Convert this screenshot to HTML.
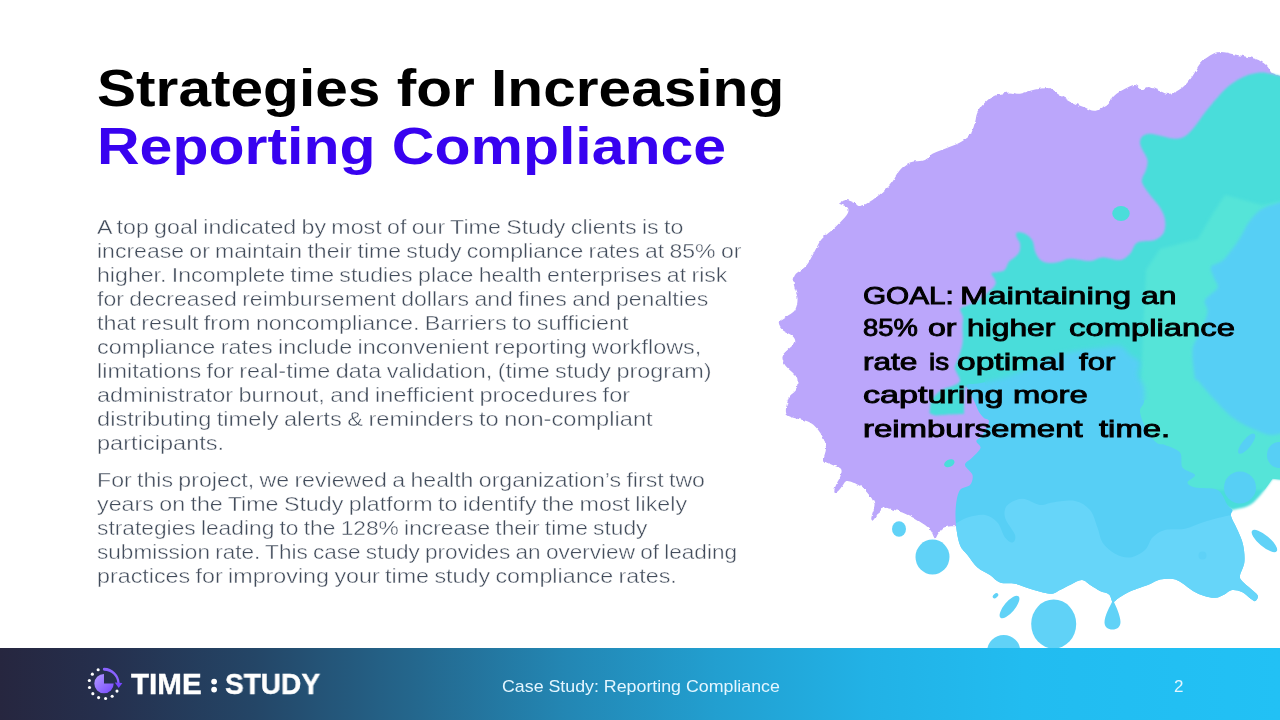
<!DOCTYPE html>
<html><head><meta charset="utf-8"><title>Strategies for Increasing Reporting Compliance</title>
<style>
html,body{margin:0;padding:0;background:#fff;}
body{width:1280px;height:720px;position:relative;overflow:hidden;font-family:"Liberation Sans",sans-serif;}
.abs{position:absolute;}
.t{position:absolute;white-space:nowrap;transform-origin:0 0;will-change:transform;}
.b{-webkit-text-stroke:0.42px #fff;}
.g{-webkit-text-stroke:0.9px #000;}
.w{-webkit-text-stroke:0.4px #fff;}
.footer{position:absolute;left:0;top:648px;width:1280px;height:72px;background:linear-gradient(90deg,#26263f 0%,#252f4d 8%,#244667 20%,#24668c 32%,#2386b3 44%,#229fd0 56%,#22b2e6 68%,#22bcf0 80%,#22c1f5 100%);}
</style></head>
<body>
<svg class="abs" style="left:0;top:0" width="1280" height="720" viewBox="0 0 1280 720">
<filter id="rough" x="-5%" y="-5%" width="110%" height="110%"><feTurbulence type="fractalNoise" baseFrequency="0.22" numOctaves="2" seed="7" result="n"/><feDisplacementMap in="SourceGraphic" in2="n" scale="3.2" xChannelSelector="R" yChannelSelector="G"/></filter>
<path d="M838.8,203.8C840.0,203.1 843.5,200.2 846.0,200.0C848.5,199.8 851.7,201.5 854.0,202.5C856.3,203.5 856.9,206.4 860.0,206.0C863.1,205.6 867.5,203.5 872.5,200.0C877.5,196.5 885.4,190.0 890.0,185.0C894.6,180.0 896.7,173.8 900.0,170.0C903.3,166.2 905.8,164.2 910.0,162.5C914.2,160.8 921.2,161.5 925.0,160.0C928.8,158.5 929.2,155.6 932.5,153.8C935.8,151.9 940.4,150.6 945.0,148.8C949.6,146.9 955.8,144.8 960.0,142.5C964.2,140.2 967.5,138.3 970.0,135.0C972.5,131.7 973.8,126.2 975.0,122.5C976.2,118.8 975.8,115.8 977.5,112.5C979.2,109.2 982.1,105.3 985.0,102.5C987.9,99.7 990.8,97.2 995.0,95.5C999.2,93.8 1005.8,92.8 1010.0,92.5C1014.2,92.2 1015.8,94.2 1020.0,93.8C1024.2,93.2 1030.0,90.4 1035.0,89.5C1040.0,88.6 1046.2,87.5 1050.0,88.2C1053.8,89.0 1054.2,91.6 1057.5,93.8C1060.8,95.9 1065.4,99.0 1070.0,101.2C1074.6,103.5 1080.8,105.9 1085.0,107.5C1089.2,109.1 1091.2,111.2 1095.0,110.8C1098.8,110.3 1104.4,107.4 1107.5,105.0C1110.6,102.6 1110.8,99.0 1113.8,96.2C1116.7,93.5 1121.5,90.6 1125.0,88.8C1128.5,86.9 1132.1,84.8 1135.0,85.0C1137.9,85.2 1140.2,89.7 1142.5,90.0C1144.8,90.3 1145.8,86.8 1148.8,87.0C1151.7,87.2 1156.5,90.1 1160.0,91.2C1163.5,92.4 1166.2,94.4 1170.0,93.8C1173.8,93.1 1178.8,90.4 1182.5,87.5C1186.2,84.6 1189.6,80.2 1192.5,76.2C1195.4,72.3 1197.1,67.2 1200.0,63.8C1202.9,60.3 1206.7,57.5 1210.0,55.5C1213.3,53.5 1215.8,52.2 1220.0,52.0C1224.2,51.8 1229.2,53.4 1235.0,54.5C1240.8,55.6 1249.8,57.0 1255.0,58.8C1260.2,60.5 1263.3,62.7 1266.0,65.0C1268.7,67.3 1270.2,71.2 1271.0,72.5L1285.0,78.0L1285.0,300.0L1100.0,420.0L990.0,520.0L957.5,526.0C955.2,526.2 947.2,526.2 944.0,527.5C940.8,528.8 939.5,532.2 938.0,534.0C936.5,535.8 936.2,539.0 935.0,538.5C933.8,538.0 932.7,533.2 931.0,531.0C929.3,528.8 928.5,527.5 925.0,525.0C921.5,522.5 915.0,518.5 910.0,516.0C905.0,513.5 899.5,511.4 895.0,510.0C890.5,508.6 885.5,507.3 883.0,507.5C880.5,507.7 881.0,509.6 880.0,511.0C879.0,512.4 878.0,514.4 877.0,516.0C876.0,517.6 874.8,520.0 873.8,520.5C872.8,521.0 871.5,520.2 871.3,519.0C871.1,517.8 872.0,515.3 872.5,513.0C873.0,510.7 874.9,507.8 874.5,505.0C874.1,502.2 872.4,499.2 870.0,496.0C867.6,492.8 863.8,488.5 860.0,486.0C856.2,483.5 850.3,481.2 847.5,481.0C844.7,480.8 844.2,483.7 843.0,485.0C841.8,486.3 841.1,487.8 840.0,489.0C838.9,490.2 837.5,492.1 836.5,492.3C835.5,492.6 834.3,491.9 834.3,490.5C834.3,489.1 835.5,486.4 836.5,484.0C837.5,481.6 839.8,478.5 840.5,476.0C841.2,473.5 842.3,470.8 841.0,469.0C839.7,467.2 835.3,466.5 832.5,465.0C829.7,463.5 825.1,462.9 824.0,460.0C822.9,457.1 826.5,451.8 826.0,447.5C825.5,443.2 823.7,438.2 821.0,434.0C818.3,429.8 814.8,425.2 810.0,422.5C805.2,419.8 796.5,419.2 792.5,417.5C788.5,415.8 786.6,415.8 786.0,412.5C785.4,409.2 787.3,401.2 789.0,397.5C790.7,393.8 794.6,392.9 796.0,390.0C797.4,387.1 797.7,382.5 797.5,380.0C797.3,377.5 797.1,377.5 795.0,375.0C792.9,372.5 787.1,368.2 785.0,365.0C782.9,361.8 782.1,358.5 782.5,356.0C782.9,353.5 785.4,352.2 787.5,350.0C789.6,347.8 794.2,344.8 795.0,342.5C795.8,340.2 794.6,338.1 792.5,336.0C790.4,333.9 784.8,332.2 782.5,330.0C780.2,327.8 778.3,324.6 778.8,322.5C779.2,320.4 782.3,319.6 785.0,317.5C787.7,315.4 792.9,313.3 795.0,310.0C797.1,306.7 797.7,301.7 797.5,297.5C797.3,293.3 794.4,288.8 794.0,285.0C793.6,281.2 793.0,278.2 795.0,275.0C797.0,271.8 802.8,269.8 806.0,266.0C809.2,262.2 811.5,256.8 814.0,252.5C816.5,248.2 818.2,243.6 821.0,240.0C823.8,236.4 827.8,233.9 831.0,231.0C834.2,228.1 837.2,225.4 840.0,222.5C842.8,219.6 846.2,216.2 847.5,213.8C848.8,211.2 849.0,209.2 847.5,207.5C846.0,205.8 840.2,204.4 838.8,203.8Z" fill="#bba6fb" filter="url(#rough)"/>
<filter id="soft" x="-5%" y="-5%" width="110%" height="110%"><feGaussianBlur stdDeviation="0.8"/></filter><filter id="soft2" x="-10%" y="-5%" width="120%" height="110%"><feGaussianBlur stdDeviation="1.6"/></filter>
<path d="M1285.0,77.5C1282.7,76.9 1275.2,74.6 1271.0,73.8C1266.8,72.9 1264.3,72.1 1260.0,72.5C1255.7,72.9 1250.0,74.2 1245.0,76.2C1240.0,78.3 1234.6,81.5 1230.0,85.0C1225.4,88.5 1221.7,92.9 1217.5,97.5C1213.3,102.1 1208.8,107.7 1205.0,112.5C1201.2,117.3 1198.3,122.3 1195.0,126.2C1191.7,130.2 1188.3,134.2 1185.0,136.2C1181.7,138.3 1178.8,138.8 1175.0,138.8C1171.2,138.8 1166.7,137.1 1162.5,136.2C1158.3,135.4 1153.3,133.8 1150.0,133.8C1146.7,133.8 1144.2,134.8 1142.5,136.2C1140.8,137.7 1140.0,140.2 1140.0,142.5C1140.0,144.8 1141.2,147.1 1142.5,150.0C1143.8,152.9 1146.9,156.7 1147.5,160.0C1148.1,163.3 1146.8,167.1 1146.0,170.0C1145.2,172.9 1143.1,175.2 1142.5,177.5C1141.9,179.8 1141.2,180.8 1142.5,183.8C1143.8,186.7 1147.1,191.0 1150.0,195.0C1152.9,199.0 1157.5,203.3 1160.0,207.5C1162.5,211.7 1164.4,215.8 1165.0,220.0C1165.6,224.2 1165.4,229.2 1163.8,232.5C1162.1,235.8 1159.4,238.3 1155.0,240.0C1150.6,241.7 1141.7,240.2 1137.5,242.5C1133.3,244.8 1132.9,250.8 1130.0,253.8C1127.1,256.7 1124.6,259.4 1120.0,260.0C1115.4,260.6 1107.5,257.3 1102.5,257.5C1097.5,257.7 1095.4,260.8 1090.0,261.0C1084.6,261.2 1075.0,258.6 1070.0,258.8C1065.0,258.9 1063.5,261.0 1060.0,261.7C1056.5,262.4 1052.2,263.2 1049.0,263.0C1045.8,262.8 1043.1,262.1 1040.8,260.3C1038.5,258.5 1036.7,255.2 1035.3,252.0C1033.9,248.8 1034.1,243.8 1032.5,240.8C1030.9,237.8 1028.0,235.3 1025.5,233.9C1023.0,232.5 1018.7,232.0 1017.2,232.5C1015.7,233.0 1016.0,234.8 1016.5,236.7C1017.0,238.5 1019.5,241.0 1020.0,243.6C1020.5,246.2 1020.2,249.7 1019.3,252.0C1018.4,254.3 1016.1,255.9 1014.4,257.5C1012.7,259.1 1010.5,259.6 1008.9,261.7C1007.3,263.8 1006.6,268.3 1004.7,270.0C1002.9,271.7 1000.0,271.4 997.8,272.0C995.6,272.6 992.0,272.2 991.5,273.5C991.0,274.8 994.4,277.7 995.0,279.7C995.6,281.7 996.6,282.8 995.0,285.3C993.4,287.9 988.5,292.2 985.3,295.0C982.0,297.8 978.8,300.2 975.5,302.0C972.2,303.8 968.3,304.8 965.8,306.0C963.3,307.2 960.8,307.2 960.3,309.0C959.8,310.8 962.6,314.1 963.0,317.0C963.4,319.9 962.6,322.3 962.5,326.7C962.4,331.1 963.2,338.0 962.5,343.3C961.8,348.6 959.5,354.1 958.3,358.3C957.0,362.5 954.7,364.7 955.0,368.3C955.3,371.9 960.0,377.2 960.0,380.0C960.0,382.8 958.0,383.3 955.0,385.0C952.0,386.7 945.6,387.5 941.7,390.0C937.8,392.5 933.7,396.1 931.7,400.0C929.7,403.9 929.9,411.1 929.5,413.3L935.0,415.5C937.5,415.3 945.2,414.8 950.0,414.5C954.8,414.2 961.7,414.1 964.0,414.0L964.0,400.0L964.5,386.0L1100.0,450.0L1232.5,510.0L1232.5,510.0C1235.4,509.2 1245.0,507.9 1250.0,505.0C1255.0,502.1 1258.8,496.9 1262.5,492.5C1266.2,488.1 1270.8,481.0 1272.5,478.8L1285.0,480.0Z" fill="#4addda" filter="url(#soft)"/>
<ellipse cx="1121" cy="213.5" rx="8.7" ry="7.5" fill="#4addda" transform="rotate(0 1121 213.5)"/>
<ellipse cx="949.3" cy="463.3" rx="5.5" ry="3.6" fill="#4addda" transform="rotate(-25 949.3 463.3)"/>
<clipPath id="ct"><path d="M1285.0,77.5C1282.7,76.9 1275.2,74.6 1271.0,73.8C1266.8,72.9 1264.3,72.1 1260.0,72.5C1255.7,72.9 1250.0,74.2 1245.0,76.2C1240.0,78.3 1234.6,81.5 1230.0,85.0C1225.4,88.5 1221.7,92.9 1217.5,97.5C1213.3,102.1 1208.8,107.7 1205.0,112.5C1201.2,117.3 1198.3,122.3 1195.0,126.2C1191.7,130.2 1188.3,134.2 1185.0,136.2C1181.7,138.3 1178.8,138.8 1175.0,138.8C1171.2,138.8 1166.7,137.1 1162.5,136.2C1158.3,135.4 1153.3,133.8 1150.0,133.8C1146.7,133.8 1144.2,134.8 1142.5,136.2C1140.8,137.7 1140.0,140.2 1140.0,142.5C1140.0,144.8 1141.2,147.1 1142.5,150.0C1143.8,152.9 1146.9,156.7 1147.5,160.0C1148.1,163.3 1146.8,167.1 1146.0,170.0C1145.2,172.9 1143.1,175.2 1142.5,177.5C1141.9,179.8 1141.2,180.8 1142.5,183.8C1143.8,186.7 1147.1,191.0 1150.0,195.0C1152.9,199.0 1157.5,203.3 1160.0,207.5C1162.5,211.7 1164.4,215.8 1165.0,220.0C1165.6,224.2 1165.4,229.2 1163.8,232.5C1162.1,235.8 1159.4,238.3 1155.0,240.0C1150.6,241.7 1141.7,240.2 1137.5,242.5C1133.3,244.8 1132.9,250.8 1130.0,253.8C1127.1,256.7 1124.6,259.4 1120.0,260.0C1115.4,260.6 1107.5,257.3 1102.5,257.5C1097.5,257.7 1095.4,260.8 1090.0,261.0C1084.6,261.2 1075.0,258.6 1070.0,258.8C1065.0,258.9 1063.5,261.0 1060.0,261.7C1056.5,262.4 1052.2,263.2 1049.0,263.0C1045.8,262.8 1043.1,262.1 1040.8,260.3C1038.5,258.5 1036.7,255.2 1035.3,252.0C1033.9,248.8 1034.1,243.8 1032.5,240.8C1030.9,237.8 1028.0,235.3 1025.5,233.9C1023.0,232.5 1018.7,232.0 1017.2,232.5C1015.7,233.0 1016.0,234.8 1016.5,236.7C1017.0,238.5 1019.5,241.0 1020.0,243.6C1020.5,246.2 1020.2,249.7 1019.3,252.0C1018.4,254.3 1016.1,255.9 1014.4,257.5C1012.7,259.1 1010.5,259.6 1008.9,261.7C1007.3,263.8 1006.6,268.3 1004.7,270.0C1002.9,271.7 1000.0,271.4 997.8,272.0C995.6,272.6 992.0,272.2 991.5,273.5C991.0,274.8 994.4,277.7 995.0,279.7C995.6,281.7 996.6,282.8 995.0,285.3C993.4,287.9 988.5,292.2 985.3,295.0C982.0,297.8 978.8,300.2 975.5,302.0C972.2,303.8 968.3,304.8 965.8,306.0C963.3,307.2 960.8,307.2 960.3,309.0C959.8,310.8 962.6,314.1 963.0,317.0C963.4,319.9 962.6,322.3 962.5,326.7C962.4,331.1 963.2,338.0 962.5,343.3C961.8,348.6 959.5,354.1 958.3,358.3C957.0,362.5 954.7,364.7 955.0,368.3C955.3,371.9 960.0,377.2 960.0,380.0C960.0,382.8 958.0,383.3 955.0,385.0C952.0,386.7 945.6,387.5 941.7,390.0C937.8,392.5 933.7,396.1 931.7,400.0C929.7,403.9 929.9,411.1 929.5,413.3L935.0,415.5C937.5,415.3 945.2,414.8 950.0,414.5C954.8,414.2 961.7,414.1 964.0,414.0L964.0,400.0L964.5,386.0L1100.0,450.0L1232.5,510.0L1232.5,510.0C1235.4,509.2 1245.0,507.9 1250.0,505.0C1255.0,502.1 1258.8,496.9 1262.5,492.5C1266.2,488.1 1270.8,481.0 1272.5,478.8L1285.0,480.0Z"/></clipPath>
<path clip-path="url(#ct)" d="M1225,195 L1262,205 L1285,200 L1285,490 L1100,490 L1140,400 L1146,270 L1160,249 L1198,239 L1212,215Z" fill="#54e4d8" filter="url(#soft2)"/>
<clipPath id="zin"><path d="M985,330H1152V400H985Z"/></clipPath><clipPath id="zout"><path clip-rule="evenodd" d="M0,0H1280V720H0Z M985,330H1152V400H985Z"/></clipPath><filter id="soft3" x="-5%" y="-5%" width="110%" height="110%"><feGaussianBlur stdDeviation="2.4"/></filter>
<g clip-path="url(#zout)"><path d="M967.0,385.0C968.3,383.6 974.2,384.2 978.0,383.5C981.8,382.8 984.7,382.2 990.0,381.0C995.3,379.8 1003.3,378.2 1010.0,376.0C1016.7,373.8 1024.2,370.7 1030.0,368.0C1035.8,365.3 1040.0,362.2 1045.0,360.0C1050.0,357.8 1054.2,356.1 1060.0,354.5C1065.8,352.9 1073.3,351.6 1080.0,350.5C1086.7,349.4 1093.3,348.8 1100.0,348.0C1106.7,347.2 1115.0,344.8 1120.0,346.0C1125.0,347.2 1126.7,352.3 1130.0,355.0C1133.3,357.7 1138.7,358.7 1140.0,362.0C1141.3,365.3 1137.3,370.8 1138.0,375.0C1138.7,379.2 1143.0,382.5 1144.0,387.0C1145.0,391.5 1144.7,397.8 1144.0,402.0C1143.3,406.2 1139.5,407.2 1140.0,412.0C1140.5,416.8 1144.2,425.8 1147.0,431.0C1149.8,436.2 1154.0,440.7 1157.0,443.0C1160.0,445.3 1161.2,443.4 1165.0,445.0C1168.8,446.6 1177.1,448.8 1180.0,452.5C1182.9,456.2 1180.0,463.8 1182.5,467.5C1185.0,471.2 1194.2,472.5 1195.0,475.0C1195.8,477.5 1187.5,480.4 1187.5,482.5C1187.5,484.6 1190.0,486.2 1195.0,487.5C1200.0,488.8 1212.1,487.1 1217.5,490.0C1222.9,492.9 1225.0,501.7 1227.5,505.0C1230.0,508.3 1231.9,508.2 1232.5,510.0C1233.1,511.8 1230.2,512.7 1231.0,516.0C1231.8,519.3 1235.5,525.3 1237.5,530.0C1239.5,534.7 1241.8,539.1 1243.0,544.4C1244.2,549.7 1244.9,556.8 1244.4,562.0C1243.9,567.2 1240.4,572.3 1240.0,575.5C1239.6,578.7 1240.2,578.8 1242.0,581.0C1243.8,583.2 1248.4,586.6 1251.0,589.0C1253.6,591.4 1257.0,593.5 1257.7,595.5C1258.5,597.5 1256.6,600.4 1255.5,601.0C1254.4,601.6 1253.2,600.5 1251.0,599.0C1248.8,597.5 1245.2,593.5 1242.0,592.0C1238.8,590.5 1234.9,589.6 1232.0,590.0C1229.1,590.4 1227.2,593.1 1224.4,594.4C1221.7,595.7 1218.8,597.5 1215.5,597.8C1212.2,598.1 1208.2,597.1 1204.4,596.0C1200.7,594.9 1196.7,593.2 1193.0,591.0C1189.3,588.8 1185.3,585.0 1182.0,583.0C1178.7,581.0 1176.7,579.6 1173.0,579.0C1169.3,578.4 1164.0,578.6 1160.0,579.5C1156.0,580.4 1153.8,582.5 1149.0,584.4C1144.2,586.3 1136.0,588.8 1131.0,591.0C1126.0,593.2 1122.0,596.0 1119.0,597.8C1116.0,599.6 1114.7,602.6 1113.0,602.0C1111.3,601.4 1111.2,596.2 1109.0,594.4C1106.8,592.6 1103.0,592.5 1100.0,591.0C1097.0,589.5 1094.0,587.3 1091.0,585.5C1088.0,583.7 1085.3,580.2 1082.0,580.0C1078.7,579.8 1074.7,582.7 1071.0,584.4C1067.3,586.1 1063.5,588.4 1060.0,590.0C1056.5,591.6 1055.0,594.0 1050.0,593.8C1045.0,593.5 1035.8,590.4 1030.0,588.8C1024.2,587.1 1020.0,584.8 1015.0,583.8C1010.0,582.7 1004.2,584.0 1000.0,582.5C995.8,581.0 993.8,577.5 990.0,575.0C986.2,572.5 981.2,570.8 977.5,567.5C973.8,564.2 970.4,558.8 967.5,555.0C964.6,551.2 961.9,550.0 960.0,545.0C958.1,540.0 956.7,531.7 956.0,525.0C955.3,518.3 955.3,510.8 956.0,505.0C956.7,499.2 957.7,493.3 960.0,490.0C962.3,486.7 967.9,487.5 970.0,485.0C972.1,482.5 973.3,478.3 972.5,475.0C971.7,471.7 965.1,467.9 965.0,465.0C964.9,462.1 969.4,460.6 972.0,457.8C974.6,455.0 979.8,450.8 980.5,448.0C981.2,445.2 976.1,443.1 976.4,441.0C976.6,438.9 979.9,438.7 982.0,435.5C984.1,432.3 988.7,424.6 989.0,421.7C989.3,418.8 985.7,419.6 984.0,418.0C982.3,416.4 980.5,414.5 979.0,412.0C977.5,409.5 976.5,406.3 975.0,403.0C973.5,399.7 971.3,395.0 970.0,392.0C968.7,389.0 965.7,386.4 967.0,385.0Z" fill="#57cff5"/></g>
<g clip-path="url(#zin)"><path d="M967.0,385.0C968.3,383.6 974.2,384.2 978.0,383.5C981.8,382.8 984.7,382.2 990.0,381.0C995.3,379.8 1003.3,378.2 1010.0,376.0C1016.7,373.8 1024.2,370.7 1030.0,368.0C1035.8,365.3 1040.0,362.2 1045.0,360.0C1050.0,357.8 1054.2,356.1 1060.0,354.5C1065.8,352.9 1073.3,351.6 1080.0,350.5C1086.7,349.4 1093.3,348.8 1100.0,348.0C1106.7,347.2 1115.0,344.8 1120.0,346.0C1125.0,347.2 1126.7,352.3 1130.0,355.0C1133.3,357.7 1138.7,358.7 1140.0,362.0C1141.3,365.3 1137.3,370.8 1138.0,375.0C1138.7,379.2 1143.0,382.5 1144.0,387.0C1145.0,391.5 1144.7,397.8 1144.0,402.0C1143.3,406.2 1139.5,407.2 1140.0,412.0C1140.5,416.8 1144.2,425.8 1147.0,431.0C1149.8,436.2 1154.0,440.7 1157.0,443.0C1160.0,445.3 1161.2,443.4 1165.0,445.0C1168.8,446.6 1177.1,448.8 1180.0,452.5C1182.9,456.2 1180.0,463.8 1182.5,467.5C1185.0,471.2 1194.2,472.5 1195.0,475.0C1195.8,477.5 1187.5,480.4 1187.5,482.5C1187.5,484.6 1190.0,486.2 1195.0,487.5C1200.0,488.8 1212.1,487.1 1217.5,490.0C1222.9,492.9 1225.0,501.7 1227.5,505.0C1230.0,508.3 1231.9,508.2 1232.5,510.0C1233.1,511.8 1230.2,512.7 1231.0,516.0C1231.8,519.3 1235.5,525.3 1237.5,530.0C1239.5,534.7 1241.8,539.1 1243.0,544.4C1244.2,549.7 1244.9,556.8 1244.4,562.0C1243.9,567.2 1240.4,572.3 1240.0,575.5C1239.6,578.7 1240.2,578.8 1242.0,581.0C1243.8,583.2 1248.4,586.6 1251.0,589.0C1253.6,591.4 1257.0,593.5 1257.7,595.5C1258.5,597.5 1256.6,600.4 1255.5,601.0C1254.4,601.6 1253.2,600.5 1251.0,599.0C1248.8,597.5 1245.2,593.5 1242.0,592.0C1238.8,590.5 1234.9,589.6 1232.0,590.0C1229.1,590.4 1227.2,593.1 1224.4,594.4C1221.7,595.7 1218.8,597.5 1215.5,597.8C1212.2,598.1 1208.2,597.1 1204.4,596.0C1200.7,594.9 1196.7,593.2 1193.0,591.0C1189.3,588.8 1185.3,585.0 1182.0,583.0C1178.7,581.0 1176.7,579.6 1173.0,579.0C1169.3,578.4 1164.0,578.6 1160.0,579.5C1156.0,580.4 1153.8,582.5 1149.0,584.4C1144.2,586.3 1136.0,588.8 1131.0,591.0C1126.0,593.2 1122.0,596.0 1119.0,597.8C1116.0,599.6 1114.7,602.6 1113.0,602.0C1111.3,601.4 1111.2,596.2 1109.0,594.4C1106.8,592.6 1103.0,592.5 1100.0,591.0C1097.0,589.5 1094.0,587.3 1091.0,585.5C1088.0,583.7 1085.3,580.2 1082.0,580.0C1078.7,579.8 1074.7,582.7 1071.0,584.4C1067.3,586.1 1063.5,588.4 1060.0,590.0C1056.5,591.6 1055.0,594.0 1050.0,593.8C1045.0,593.5 1035.8,590.4 1030.0,588.8C1024.2,587.1 1020.0,584.8 1015.0,583.8C1010.0,582.7 1004.2,584.0 1000.0,582.5C995.8,581.0 993.8,577.5 990.0,575.0C986.2,572.5 981.2,570.8 977.5,567.5C973.8,564.2 970.4,558.8 967.5,555.0C964.6,551.2 961.9,550.0 960.0,545.0C958.1,540.0 956.7,531.7 956.0,525.0C955.3,518.3 955.3,510.8 956.0,505.0C956.7,499.2 957.7,493.3 960.0,490.0C962.3,486.7 967.9,487.5 970.0,485.0C972.1,482.5 973.3,478.3 972.5,475.0C971.7,471.7 965.1,467.9 965.0,465.0C964.9,462.1 969.4,460.6 972.0,457.8C974.6,455.0 979.8,450.8 980.5,448.0C981.2,445.2 976.1,443.1 976.4,441.0C976.6,438.9 979.9,438.7 982.0,435.5C984.1,432.3 988.7,424.6 989.0,421.7C989.3,418.8 985.7,419.6 984.0,418.0C982.3,416.4 980.5,414.5 979.0,412.0C977.5,409.5 976.5,406.3 975.0,403.0C973.5,399.7 971.3,395.0 970.0,392.0C968.7,389.0 965.7,386.4 967.0,385.0Z" fill="#57cff5" filter="url(#soft3)"/></g>
<clipPath id="cb"><path d="M967.0,385.0C968.3,383.6 974.2,384.2 978.0,383.5C981.8,382.8 984.7,382.2 990.0,381.0C995.3,379.8 1003.3,378.2 1010.0,376.0C1016.7,373.8 1024.2,370.7 1030.0,368.0C1035.8,365.3 1040.0,362.2 1045.0,360.0C1050.0,357.8 1054.2,356.1 1060.0,354.5C1065.8,352.9 1073.3,351.6 1080.0,350.5C1086.7,349.4 1093.3,348.8 1100.0,348.0C1106.7,347.2 1115.0,344.8 1120.0,346.0C1125.0,347.2 1126.7,352.3 1130.0,355.0C1133.3,357.7 1138.7,358.7 1140.0,362.0C1141.3,365.3 1137.3,370.8 1138.0,375.0C1138.7,379.2 1143.0,382.5 1144.0,387.0C1145.0,391.5 1144.7,397.8 1144.0,402.0C1143.3,406.2 1139.5,407.2 1140.0,412.0C1140.5,416.8 1144.2,425.8 1147.0,431.0C1149.8,436.2 1154.0,440.7 1157.0,443.0C1160.0,445.3 1161.2,443.4 1165.0,445.0C1168.8,446.6 1177.1,448.8 1180.0,452.5C1182.9,456.2 1180.0,463.8 1182.5,467.5C1185.0,471.2 1194.2,472.5 1195.0,475.0C1195.8,477.5 1187.5,480.4 1187.5,482.5C1187.5,484.6 1190.0,486.2 1195.0,487.5C1200.0,488.8 1212.1,487.1 1217.5,490.0C1222.9,492.9 1225.0,501.7 1227.5,505.0C1230.0,508.3 1231.9,508.2 1232.5,510.0C1233.1,511.8 1230.2,512.7 1231.0,516.0C1231.8,519.3 1235.5,525.3 1237.5,530.0C1239.5,534.7 1241.8,539.1 1243.0,544.4C1244.2,549.7 1244.9,556.8 1244.4,562.0C1243.9,567.2 1240.4,572.3 1240.0,575.5C1239.6,578.7 1240.2,578.8 1242.0,581.0C1243.8,583.2 1248.4,586.6 1251.0,589.0C1253.6,591.4 1257.0,593.5 1257.7,595.5C1258.5,597.5 1256.6,600.4 1255.5,601.0C1254.4,601.6 1253.2,600.5 1251.0,599.0C1248.8,597.5 1245.2,593.5 1242.0,592.0C1238.8,590.5 1234.9,589.6 1232.0,590.0C1229.1,590.4 1227.2,593.1 1224.4,594.4C1221.7,595.7 1218.8,597.5 1215.5,597.8C1212.2,598.1 1208.2,597.1 1204.4,596.0C1200.7,594.9 1196.7,593.2 1193.0,591.0C1189.3,588.8 1185.3,585.0 1182.0,583.0C1178.7,581.0 1176.7,579.6 1173.0,579.0C1169.3,578.4 1164.0,578.6 1160.0,579.5C1156.0,580.4 1153.8,582.5 1149.0,584.4C1144.2,586.3 1136.0,588.8 1131.0,591.0C1126.0,593.2 1122.0,596.0 1119.0,597.8C1116.0,599.6 1114.7,602.6 1113.0,602.0C1111.3,601.4 1111.2,596.2 1109.0,594.4C1106.8,592.6 1103.0,592.5 1100.0,591.0C1097.0,589.5 1094.0,587.3 1091.0,585.5C1088.0,583.7 1085.3,580.2 1082.0,580.0C1078.7,579.8 1074.7,582.7 1071.0,584.4C1067.3,586.1 1063.5,588.4 1060.0,590.0C1056.5,591.6 1055.0,594.0 1050.0,593.8C1045.0,593.5 1035.8,590.4 1030.0,588.8C1024.2,587.1 1020.0,584.8 1015.0,583.8C1010.0,582.7 1004.2,584.0 1000.0,582.5C995.8,581.0 993.8,577.5 990.0,575.0C986.2,572.5 981.2,570.8 977.5,567.5C973.8,564.2 970.4,558.8 967.5,555.0C964.6,551.2 961.9,550.0 960.0,545.0C958.1,540.0 956.7,531.7 956.0,525.0C955.3,518.3 955.3,510.8 956.0,505.0C956.7,499.2 957.7,493.3 960.0,490.0C962.3,486.7 967.9,487.5 970.0,485.0C972.1,482.5 973.3,478.3 972.5,475.0C971.7,471.7 965.1,467.9 965.0,465.0C964.9,462.1 969.4,460.6 972.0,457.8C974.6,455.0 979.8,450.8 980.5,448.0C981.2,445.2 976.1,443.1 976.4,441.0C976.6,438.9 979.9,438.7 982.0,435.5C984.1,432.3 988.7,424.6 989.0,421.7C989.3,418.8 985.7,419.6 984.0,418.0C982.3,416.4 980.5,414.5 979.0,412.0C977.5,409.5 976.5,406.3 975.0,403.0C973.5,399.7 971.3,395.0 970.0,392.0C968.7,389.0 965.7,386.4 967.0,385.0Z"/></clipPath>
<path clip-path="url(#cb)" d="M950.0,525.0C951.2,524.6 954.6,523.8 957.5,522.5C960.4,521.2 962.9,518.8 967.5,517.5C972.1,516.2 980.0,514.2 985.0,515.0C990.0,515.8 994.2,518.8 997.5,522.5C1000.8,526.2 1002.5,534.2 1005.0,537.5C1007.5,540.8 1010.8,542.9 1012.5,542.5C1014.2,542.1 1016.2,539.2 1015.0,535.0C1013.8,530.8 1006.2,522.5 1005.0,517.5C1003.8,512.5 1004.6,508.1 1007.5,505.0C1010.4,501.9 1017.1,498.8 1022.5,498.8C1027.9,498.8 1035.0,504.4 1040.0,505.0C1045.0,505.6 1046.7,503.2 1052.5,502.5C1058.3,501.8 1068.8,499.8 1075.0,501.0C1081.2,502.2 1086.2,505.6 1090.0,510.0C1093.8,514.4 1095.4,522.1 1097.5,527.5C1099.6,532.9 1099.6,538.1 1102.5,542.5C1105.4,546.9 1110.4,551.2 1115.0,553.8C1119.6,556.2 1125.0,558.1 1130.0,557.5C1135.0,556.9 1141.2,553.3 1145.0,550.0C1148.8,546.7 1149.2,540.8 1152.5,537.5C1155.8,534.2 1159.6,531.5 1165.0,530.0C1170.4,528.5 1178.8,530.0 1185.0,528.8C1191.2,527.5 1196.7,524.4 1202.5,522.5C1208.3,520.6 1215.0,518.8 1220.0,517.5C1225.0,516.2 1227.5,515.9 1232.5,515.0C1237.5,514.1 1247.1,512.5 1250.0,512.0L1270.0,520.0L1270.0,620.0L940.0,620.0L940.0,525.0Z" fill="#66d5f9"/>
<circle cx="1202.5" cy="555.5" r="4" fill="#5ed1f7"/>
<path d="M1285.0,201.0C1281.2,202.3 1268.0,205.5 1262.0,209.0C1256.0,212.5 1252.7,217.2 1249.0,222.0C1245.3,226.8 1243.2,233.0 1240.0,238.0C1236.8,243.0 1233.0,248.2 1230.0,252.0C1227.0,255.8 1225.2,258.5 1222.0,261.0C1218.8,263.5 1212.3,264.2 1211.0,267.0C1209.7,269.8 1212.9,274.5 1214.0,278.0C1215.1,281.5 1219.0,284.3 1217.5,288.0C1216.0,291.7 1206.7,295.9 1205.0,300.0C1203.3,304.1 1208.3,307.1 1207.5,312.5C1206.7,317.9 1202.5,326.2 1200.0,332.5C1197.5,338.8 1193.3,342.1 1192.5,350.0C1191.7,357.9 1194.6,375.0 1195.0,380.0L1197.5,380.0C1200.0,382.9 1206.7,391.2 1212.5,397.5C1218.3,403.8 1225.8,412.3 1232.5,417.5C1239.2,422.7 1246.2,425.8 1252.5,428.8C1258.8,431.7 1264.6,434.4 1270.0,435.0C1275.4,435.6 1282.5,432.9 1285.0,432.5Z" fill="#57cff5" filter="url(#soft2)"/>
<ellipse cx="899" cy="529" rx="7" ry="7.8" fill="#60d2f7" transform="rotate(0 899 529)"/>
<ellipse cx="932.5" cy="557" rx="17" ry="17.5" fill="#60d2f7" transform="rotate(0 932.5 557)"/>
<ellipse cx="995.5" cy="595.7" rx="3.2" ry="2" fill="#60d2f7" transform="rotate(-40 995.5 595.7)"/>
<ellipse cx="1009.5" cy="607" rx="14" ry="5.4" fill="#60d2f7" transform="rotate(-50 1009.5 607)"/>
<ellipse cx="1053.7" cy="624" rx="22.5" ry="24.5" fill="#60d2f7" transform="rotate(0 1053.7 624)"/>
<ellipse cx="1003.7" cy="651" rx="16.5" ry="16" fill="#60d2f7" transform="rotate(0 1003.7 651)"/>
<path d="M1113,600 C1116,606 1120.5,616 1120.5,622 C1120.5,627 1117,629.5 1112.5,629.5 C1108,629.5 1104.5,627 1104.5,622.5 C1104.5,616 1110,606 1113,600Z" fill="#60d2f7"/>
<ellipse cx="1264.4" cy="541" rx="16" ry="5.5" fill="#60d2f7" transform="rotate(40 1264.4 541)"/>
<ellipse cx="1240" cy="487.5" rx="16" ry="16" fill="#57cff5" transform="rotate(0 1240 487.5)"/>
<ellipse cx="1246.7" cy="443.7" rx="12.5" ry="4.4" fill="#57cff5" transform="rotate(-51 1246.7 443.7)"/>
<ellipse cx="1279" cy="455" rx="12" ry="13" fill="#57cff5" transform="rotate(0 1279 455)"/>
</svg>
<div class="footer"></div>
<svg class="abs" style="left:0;top:648px" width="260" height="72" viewBox="0 648 260 72">
<defs><linearGradient id="pg" x1="0" y1="0" x2="1" y2="1"><stop offset="0" stop-color="#b49cff"/><stop offset="1" stop-color="#7446ff"/></linearGradient></defs>
<circle cx="116.99" cy="691.10" r="1.55" fill="#fff"/><circle cx="112.17" cy="696.18" r="1.55" fill="#fff"/><circle cx="105.57" cy="698.52" r="1.55" fill="#fff"/><circle cx="98.62" cy="697.60" r="1.55" fill="#fff"/><circle cx="92.85" cy="693.64" r="1.55" fill="#fff"/><circle cx="89.51" cy="687.48" r="1.55" fill="#fff"/><circle cx="89.33" cy="680.48" r="1.55" fill="#fff"/><circle cx="92.34" cy="674.16" r="1.55" fill="#fff"/><circle cx="98.14" cy="669.79" r="1.55" fill="#fff"/>
<circle cx="214.1" cy="681.6" r="2.9" fill="#fff"/><circle cx="214.1" cy="689.6" r="2.9" fill="#fff"/>
<path d="M104,683.6 L104,673.9 A9.7,9.7 0 1 0 113.7,683.6 Z" fill="url(#pg)"/>
<path d="M104.3,667.8000000000001 A15.8,15.8 0 0 1 119.6,683.0 L117.4,683.0 A13.2,13.2 0 0 0 104.3,670.7 A1.45,1.45 0 0 1 104.3,667.8000000000001 Z" fill="#8a62ff"/>
<path d="M114.8,682.6 L122.4,683.0 L118.7,688.1 Z" fill="#7646ff"/>
</svg>
<div class="t" style="left:96.50px;top:62.00px;font-size:52.3px;line-height:52.3px;font-weight:700;color:#000000;transform:scaleX(1.1206)">Strategies for Increasing</div>
<div class="t" style="left:96.50px;top:120.00px;font-size:52.3px;line-height:52.3px;font-weight:700;color:#3802f0;transform:scaleX(1.1277)">Reporting Compliance</div>
<div class="t b" style="left:97.00px;top:216.00px;font-size:21px;line-height:21px;font-weight:400;color:#424c5b;word-spacing:-1px;transform:scaleX(1.1047)">A top goal indicated by most of our Time Study clients is to</div>
<div class="t b" style="left:97.00px;top:240.00px;font-size:21px;line-height:21px;font-weight:400;color:#424c5b;word-spacing:-1px;transform:scaleX(1.0966)">increase or maintain their time study compliance rates at 85% or</div>
<div class="t b" style="left:97.00px;top:264.00px;font-size:21px;line-height:21px;font-weight:400;color:#424c5b;word-spacing:-1px;transform:scaleX(1.1019)">higher. Incomplete time studies place health enterprises at risk</div>
<div class="t b" style="left:97.00px;top:288.00px;font-size:21px;line-height:21px;font-weight:400;color:#424c5b;word-spacing:-1px;transform:scaleX(1.0977)">for decreased reimbursement dollars and fines and penalties</div>
<div class="t b" style="left:97.00px;top:312.00px;font-size:21px;line-height:21px;font-weight:400;color:#424c5b;word-spacing:-1px;transform:scaleX(1.1120)">that result from noncompliance. Barriers to sufficient</div>
<div class="t b" style="left:97.00px;top:336.00px;font-size:21px;line-height:21px;font-weight:400;color:#424c5b;word-spacing:-1px;transform:scaleX(1.1139)">compliance rates include inconvenient reporting workflows,</div>
<div class="t b" style="left:97.00px;top:360.00px;font-size:21px;line-height:21px;font-weight:400;color:#424c5b;word-spacing:-1px;transform:scaleX(1.1155)">limitations for real-time data validation, (time study program)</div>
<div class="t b" style="left:97.00px;top:384.00px;font-size:21px;line-height:21px;font-weight:400;color:#424c5b;word-spacing:-1px;transform:scaleX(1.1210)">administrator burnout, and inefficient procedures for</div>
<div class="t b" style="left:97.00px;top:408.00px;font-size:21px;line-height:21px;font-weight:400;color:#424c5b;word-spacing:-1px;transform:scaleX(1.1258)">distributing timely alerts &amp; reminders to non-compliant</div>
<div class="t b" style="left:97.00px;top:432.00px;font-size:21px;line-height:21px;font-weight:400;color:#424c5b;word-spacing:-1px;transform:scaleX(1.1231)">participants.</div>
<div class="t b" style="left:97.00px;top:469.00px;font-size:21px;line-height:21px;font-weight:400;color:#424c5b;word-spacing:-1px;transform:scaleX(1.1013)">For this project, we reviewed a health organization’s first two</div>
<div class="t b" style="left:97.00px;top:493.00px;font-size:21px;line-height:21px;font-weight:400;color:#424c5b;word-spacing:-1px;transform:scaleX(1.1075)">years on the Time Study platform to identify the most likely</div>
<div class="t b" style="left:97.00px;top:517.00px;font-size:21px;line-height:21px;font-weight:400;color:#424c5b;word-spacing:-1px;transform:scaleX(1.0837)">strategies leading to the 128% increase their time study</div>
<div class="t b" style="left:97.00px;top:541.00px;font-size:21px;line-height:21px;font-weight:400;color:#424c5b;word-spacing:-1px;transform:scaleX(1.0752)">submission rate. This case study provides an overview of leading</div>
<div class="t b" style="left:97.00px;top:565.00px;font-size:21px;line-height:21px;font-weight:400;color:#424c5b;word-spacing:-1px;transform:scaleX(1.1089)">practices for improving your time study compliance rates.</div>
<div class="t g" style="left:862.75px;top:284.00px;font-size:23.8px;line-height:23.8px;font-weight:400;color:#000001;transform:scaleX(1.2492)">GOAL:</div>
<div class="t g" style="left:960.09px;top:284.00px;font-size:23.8px;line-height:23.8px;font-weight:400;color:#000001;transform:scaleX(1.4062)">Maintaining</div>
<div class="t g" style="left:1140.96px;top:284.00px;font-size:23.8px;line-height:23.8px;font-weight:400;color:#000001;transform:scaleX(1.3411)">an</div>
<div class="t g" style="left:862.85px;top:316.00px;font-size:23.8px;line-height:23.8px;font-weight:400;color:#000001;transform:scaleX(1.1491)">85%</div>
<div class="t g" style="left:927.65px;top:316.00px;font-size:23.8px;line-height:23.8px;font-weight:400;color:#000001;transform:scaleX(1.3492)">or</div>
<div class="t g" style="left:966.56px;top:316.00px;font-size:23.8px;line-height:23.8px;font-weight:400;color:#000001;transform:scaleX(1.3354)">higher</div>
<div class="t g" style="left:1068.92px;top:316.00px;font-size:23.8px;line-height:23.8px;font-weight:400;color:#000001;transform:scaleX(1.3783)">compliance</div>
<div class="t g" style="left:863.37px;top:350.00px;font-size:23.8px;line-height:23.8px;font-weight:400;color:#000001;transform:scaleX(1.3251)">rate</div>
<div class="t g" style="left:929.03px;top:350.00px;font-size:23.8px;line-height:23.8px;font-weight:400;color:#000001;transform:scaleX(1.1666)">is</div>
<div class="t g" style="left:957.09px;top:350.00px;font-size:23.8px;line-height:23.8px;font-weight:400;color:#000001;transform:scaleX(1.4095)">optimal</div>
<div class="t g" style="left:1078.50px;top:350.00px;font-size:23.8px;line-height:23.8px;font-weight:400;color:#000001;transform:scaleX(1.3072)">for</div>
<div class="t g" style="left:862.57px;top:383.00px;font-size:23.8px;line-height:23.8px;font-weight:400;color:#000001;transform:scaleX(1.4342)">capturing</div>
<div class="t g" style="left:1012.62px;top:383.00px;font-size:23.8px;line-height:23.8px;font-weight:400;color:#000001;transform:scaleX(1.3778)">more</div>
<div class="t g" style="left:863.32px;top:417.00px;font-size:23.8px;line-height:23.8px;font-weight:400;color:#000001;transform:scaleX(1.3840)">reimbursement</div>
<div class="t g" style="left:1098.50px;top:417.00px;font-size:23.8px;line-height:23.8px;font-weight:400;color:#000001;transform:scaleX(1.3772)">time.</div>
<div class="t" style="left:501.60px;top:678.00px;font-size:17px;line-height:17px;font-weight:400;color:#e4f6ff;transform:scaleX(1.0465)">Case Study: Reporting Compliance</div>
<div class="t" style="left:1174.00px;top:678.00px;font-size:17px;line-height:17px;font-weight:400;color:#e4f6ff;transform:scaleX(1.0000)">2</div>
<div class="t w" style="left:130.90px;top:670.00px;font-size:28.8px;line-height:28.8px;font-weight:700;color:#fffffe;transform:scaleX(1.0266)">TIME</div>
<div class="t w" style="left:225.20px;top:670.00px;font-size:28.8px;line-height:28.8px;font-weight:700;color:#fffffe;transform:scaleX(0.9734)">STUDY</div>
</body></html>
